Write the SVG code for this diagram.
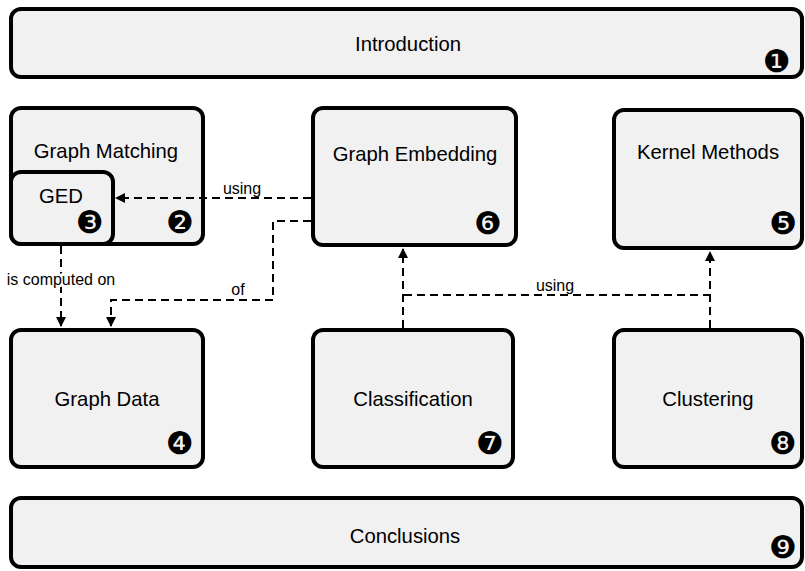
<svg xmlns="http://www.w3.org/2000/svg" width="805" height="571" viewBox="0 0 805 571">
  <style>
    .box { fill: #f1f1f1; stroke: #000; stroke-width: 4; }
    .lbl { font-family: "Liberation Sans", Arial, sans-serif; font-size: 20.3px; fill: #000; text-anchor: middle; }
    .num { font-family: "DejaVu Sans", sans-serif; font-size: 31px; fill: #000; text-anchor: middle; }
    .edge { fill: none; stroke: #000; stroke-width: 2; stroke-dasharray: 8 5; }
    .elbl { font-family: "Liberation Sans", Arial, sans-serif; font-size: 16px; fill: #000; text-anchor: middle; }
  </style>
  <defs>
    <marker id="arrow" viewBox="0 0 10 10" refX="9" refY="5" markerWidth="5" markerHeight="5" orient="auto" markerUnits="strokeWidth">
      <path d="M0,0 L10,5 L0,10 z" fill="#000"/>
    </marker>
  </defs>

  <g id="introduction">
    <rect class="box" x="11" y="9" width="791" height="68" rx="10"/>
    <text class="lbl" x="408" y="51">Introduction</text>
    <text class="num" x="777" y="72">❶</text>
  </g>

  <g id="graph-matching">
    <rect class="box" x="11" y="108" width="192" height="136" rx="10"/>
    <text class="lbl" x="106" y="158">Graph Matching</text>
    <text class="num" x="180" y="233">❷</text>
  </g>

  <g id="ged">
    <rect class="box" x="11" y="172" width="102" height="72" rx="10"/>
    <text class="lbl" x="61" y="203">GED</text>
    <text class="num" x="90" y="233">❸</text>
  </g>

  <g id="graph-embedding">
    <rect class="box" x="313" y="108" width="203" height="137" rx="10"/>
    <text class="lbl" x="415" y="161">Graph Embedding</text>
    <text class="num" x="488" y="234">❻</text>
  </g>

  <g id="kernel-methods">
    <rect class="box" x="614" y="110" width="188" height="138" rx="10"/>
    <text class="lbl" x="708" y="159">Kernel Methods</text>
    <text class="num" x="783" y="234">❺</text>
  </g>

  <g id="graph-data">
    <rect class="box" x="11" y="330" width="192" height="137" rx="10"/>
    <text class="lbl" x="107" y="406">Graph Data</text>
    <text class="num" x="180" y="454">❹</text>
  </g>

  <g id="classification">
    <rect class="box" x="313" y="330" width="200" height="137" rx="10"/>
    <text class="lbl" x="413" y="406">Classification</text>
    <text class="num" x="490" y="454">❼</text>
  </g>

  <g id="clustering">
    <rect class="box" x="614" y="330" width="188" height="137" rx="10"/>
    <text class="lbl" x="708" y="406">Clustering</text>
    <text class="num" x="783" y="454">❽</text>
  </g>

  <g id="conclusions">
    <rect class="box" x="11" y="498" width="791" height="69" rx="10"/>
    <text class="lbl" x="405" y="543">Conclusions</text>
    <text class="num" x="783" y="558">❾</text>
  </g>

  <g id="connectors">
    <!-- Graph Embedding -> GED : using -->
    <path class="edge" d="M311,198 L116,198" marker-end="url(#arrow)"/>
    <text class="elbl" x="242" y="194">using</text>
    <!-- Graph Embedding -> Graph Data : of -->
    <path class="edge" d="M311,221 L273,221 L273,300 L111,300 L111,326" marker-end="url(#arrow)"/>
    <text class="elbl" x="238" y="295">of</text>
    <!-- GED -> Graph Data : is computed on -->
    <path class="edge" d="M61,246 L61,326" marker-end="url(#arrow)"/>
    <text class="elbl" x="61" y="285" style="paint-order:stroke" stroke="#fff" stroke-width="5">is computed on</text>
    <!-- Classification -> Graph Embedding -->
    <path class="edge" d="M403,328 L403,249" marker-end="url(#arrow)"/>
    <!-- Clustering -> Kernel Methods -->
    <path class="edge" d="M710,328 L710,252" marker-end="url(#arrow)"/>
    <!-- shared link between the two : using -->
    <path class="edge" d="M404,295 L709,295"/>
    <text class="elbl" x="555" y="291">using</text>
  </g>
</svg>
